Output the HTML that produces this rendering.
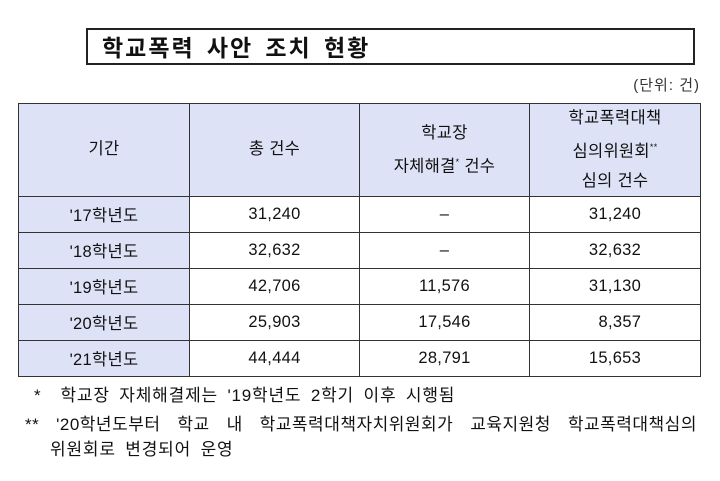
<!DOCTYPE html>
<html><head><meta charset="utf-8"><style>
body{margin:0;width:720px;height:481px;background:#fff;position:relative;font-family:"Liberation Sans","Noto Sans CJK KR",sans-serif;color:#111;overflow:hidden}
.title{position:absolute;left:86px;top:28px;width:609px;height:37px;border:2px solid #222;box-sizing:border-box;font-weight:bold;font-size:23px;line-height:33px;padding-left:14px;letter-spacing:2px;word-spacing:5px;font-family:"Noto Sans CJK KR",sans-serif}
.unit{position:absolute;right:20px;top:74px;font-size:15px;color:#333;letter-spacing:1px}
table{position:absolute;left:18px;top:103px;border-collapse:collapse;font-size:16.5px;letter-spacing:0.3px}
td{border:1.5px solid #333;text-align:center;padding:0;height:35px}
td.h{background:#dde2f6}
tr.hd td{height:91px;line-height:29px}
.fn{position:absolute;font-size:17px;color:#111;left:0;letter-spacing:0.8px;word-spacing:4px}
.sp{display:flex;justify-content:space-between;align-items:baseline;letter-spacing:0.5px}
</style></head><body>
<div class="title">학교폭력 사안 조치 현황</div>
<div class="unit">(단위: 건)</div>
<table>
<tr class="hd"><td class="h" style="width:170px">기간</td><td class="h" style="width:169px">총 건수</td><td class="h" style="width:169px">학교장<br>자체해결<sup style="font-size:9px">*</sup> 건수</td><td class="h" style="width:170px">학교폭력대책<br>심의위원회<sup style="font-size:9px">**</sup><br>심의 건수</td></tr>
<tr><td class="h">'17학년도</td><td>31,240</td><td>–</td><td>31,240</td></tr>
<tr><td class="h">'18학년도</td><td>32,632</td><td>–</td><td>32,632</td></tr>
<tr><td class="h">'19학년도</td><td>42,706</td><td>11,576</td><td>31,130</td></tr>
<tr><td class="h">'20학년도</td><td>25,903</td><td>17,546</td><td>&nbsp;&nbsp;8,357</td></tr>
<tr><td class="h">'21학년도</td><td>44,444</td><td>28,791</td><td>15,653</td></tr>
</table>
<div class="fn" style="left:34px;top:381px">* &nbsp;학교장 자체해결제는 '19학년도 2학기 이후 시행됨</div>
<div class="fn sp" style="left:25px;top:410px;width:672px"><span>**</span><span>'20학년도부터</span><span>학교</span><span>내</span><span>학교폭력대책자치위원회가</span><span>교육지원청</span><span>학교폭력대책심의</span></div>
<div class="fn" style="left:50px;top:435px">위원회로 변경되어 운영</div>
</body></html>
